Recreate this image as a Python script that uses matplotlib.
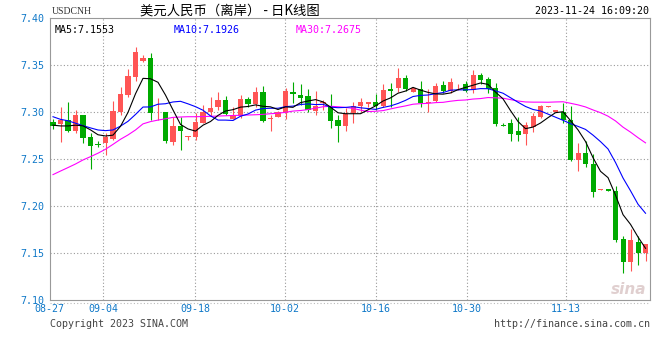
import matplotlib
matplotlib.use("Agg")
import matplotlib.pyplot as plt
from matplotlib.lines import Line2D
import numpy as np

symbol = "USDCNH"
title = "美元人民币（离岸） - 日K线图"
stamp = "2023-11-24 16:09:20"

# daily candles, oldest first
open_ = [7.2901, 7.2876, 7.2917, 7.2805, 7.2971, 7.2737, 7.2664, 7.2676, 7.2716, 7.3006,
         7.3185, 7.3378, 7.3550, 7.3579, 7.2998, 7.3003, 7.2687, 7.2855, 7.2737, 7.2740,
         7.2890, 7.3000, 7.3057, 7.3132, 7.2931, 7.2960, 7.3139, 7.3092, 7.3217, 7.2925,
         7.2953, 7.2989, 7.3217, 7.3185, 7.3175, 7.3017, 7.3096, 7.3060, 7.2917, 7.2858,
         7.2989, 7.3071, 7.3092, 7.3110, 7.3071, 7.3250, 7.3254, 7.3361, 7.3218, 7.3243,
         7.3096, 7.3124, 7.3289, 7.3228, 7.3265, 7.3300, 7.3236, 7.3396, 7.3354, 7.3254,
         7.2866, 7.2887, 7.2802, 7.2769, 7.2848, 7.2953, 7.3060, 7.3006, 7.3006, 7.2917,
         7.2493, 7.2571, 7.2450, 7.2170, 7.2181, 7.2166, 7.1652, 7.1411, 7.1620, 7.1499]
high = [7.2925, 7.3060, 7.3110, 7.3024, 7.2975, 7.2777, 7.2694, 7.2777, 7.3121, 7.3271,
        7.3458, 7.3693, 7.3611, 7.3629, 7.3150, 7.3006, 7.2953, 7.2953, 7.2750, 7.2989,
        7.3078, 7.3167, 7.3217, 7.3175, 7.3060, 7.3188, 7.3161, 7.3265, 7.3279, 7.2971,
        7.3010, 7.3254, 7.3322, 7.3300, 7.3243, 7.3222, 7.3132, 7.3196, 7.2971, 7.3043,
        7.3113, 7.3150, 7.3113, 7.3196, 7.3300, 7.3308, 7.3468, 7.3396, 7.3257, 7.3335,
        7.3243, 7.3314, 7.3335, 7.3361, 7.3300, 7.3335, 7.3450, 7.3415, 7.3372, 7.3308,
        7.2890, 7.2925, 7.2950, 7.2901, 7.2989, 7.3078, 7.3070, 7.3024, 7.3103, 7.3067,
        7.2676, 7.2694, 7.2557, 7.2181, 7.2184, 7.2216, 7.1685, 7.1754, 7.1685, 7.1598]
low = [7.2820, 7.2687, 7.2791, 7.2777, 7.2676, 7.2393, 7.2627, 7.2546, 7.2705, 7.2971,
       7.3167, 7.3335, 7.3539, 7.2917, 7.2917, 7.2670, 7.2652, 7.2600, 7.2705, 7.2705,
       7.2884, 7.2960, 7.3024, 7.2971, 7.2925, 7.2936, 7.3060, 7.3053, 7.2901, 7.2805,
       7.2950, 7.2925, 7.3096, 7.3078, 7.3006, 7.2971, 7.3024, 7.2830, 7.2687, 7.2805,
       7.2890, 7.3006, 7.3060, 7.3024, 7.3060, 7.3053, 7.3218, 7.3228, 7.3215, 7.3060,
       7.3006, 7.3114, 7.3203, 7.3203, 7.3236, 7.3214, 7.3203, 7.3300, 7.3203, 7.2855,
       7.2855, 7.2698, 7.2698, 7.2652, 7.2794, 7.2942, 7.3058, 7.3003, 7.2890, 7.2485,
       7.2378, 7.2421, 7.2095, 7.2170, 7.2166, 7.1623, 7.1287, 7.1315, 7.1376, 7.1420]
close = [7.2852, 7.2917, 7.2805, 7.2971, 7.2730, 7.2641, 7.2656, 7.2740, 7.3014, 7.3196,
         7.3386, 7.3643, 7.3575, 7.2989, 7.3008, 7.2698, 7.2855, 7.2802, 7.2748, 7.2901,
         7.3006, 7.3049, 7.3132, 7.2982, 7.2971, 7.3139, 7.3089, 7.3217, 7.2909, 7.2939,
         7.3000, 7.3225, 7.3193, 7.3156, 7.3024, 7.3071, 7.3114, 7.2910, 7.2855, 7.2978,
         7.3067, 7.3113, 7.3113, 7.3067, 7.3236, 7.3228, 7.3361, 7.3243, 7.3254, 7.3096,
         7.3114, 7.3279, 7.3228, 7.3318, 7.3271, 7.3228, 7.3396, 7.3343, 7.3243, 7.2873,
         7.2858, 7.2773, 7.2759, 7.2866, 7.2960, 7.3067, 7.3067, 7.3021, 7.2914, 7.2493,
         7.2571, 7.2450, 7.2155, 7.2181, 7.2166, 7.1642, 7.1411, 7.1642, 7.1499, 7.1595]

# moving average lines as shown on the chart
ma5 = [7.2863, 7.2855, 7.2855, 7.2863, 7.2856, 7.2813, 7.2761, 7.2748, 7.2757, 7.2851,
       7.2999, 7.3197, 7.3361, 7.3357, 7.3319, 7.3183, 7.3025, 7.2871, 7.2823, 7.2800,
       7.2863, 7.2902, 7.2967, 7.3014, 7.3028, 7.3055, 7.3062, 7.3079, 7.3064, 7.3058,
       7.3030, 7.3058, 7.3053, 7.3103, 7.3120, 7.3135, 7.3111, 7.3055, 7.2995, 7.2985,
       7.2985, 7.2985, 7.3026, 7.3068, 7.3120, 7.3153, 7.3203, 7.3226, 7.3265, 7.3236,
       7.3212, 7.3196, 7.3193, 7.3206, 7.3241, 7.3265, 7.3288, 7.3312, 7.3297, 7.3215,
       7.3143, 7.3018, 7.2902, 7.2826, 7.2843, 7.2886, 7.2943, 7.2996, 7.3006, 7.2912,
       7.2813, 7.2689, 7.2517, 7.2372, 7.2305, 7.2119, 7.1911, 7.1808, 7.1673, 7.1553]
ma10 = [7.2953, 7.2925, 7.2910, 7.2884, 7.2858, 7.2834, 7.2812, 7.2805, 7.2812, 7.2853,
        7.2904, 7.2977, 7.3056, 7.3057, 7.3086, 7.3091, 7.3110, 7.3117, 7.3090, 7.3060,
        7.3022, 7.2962, 7.2917, 7.2917, 7.2913, 7.2958, 7.2982, 7.3023, 7.3040, 7.3043,
        7.3043, 7.3060, 7.3066, 7.3083, 7.3089, 7.3082, 7.3085, 7.3055, 7.3049, 7.3052,
        7.3060, 7.3048, 7.3040, 7.3031, 7.3052, 7.3068, 7.3094, 7.3127, 7.3168, 7.3180,
        7.3184, 7.3198, 7.3210, 7.3235, 7.3239, 7.3239, 7.3242, 7.3252, 7.3251, 7.3228,
        7.3203, 7.3155, 7.3107, 7.3062, 7.3030, 7.3014, 7.2981, 7.2948, 7.2915, 7.2879,
        7.2850, 7.2818, 7.2757, 7.2688, 7.2610, 7.2466, 7.2301, 7.2165, 7.2022, 7.1926]
ma30 = [7.2337, 7.2375, 7.2412, 7.2450, 7.2493, 7.2528, 7.2565, 7.2607, 7.2659, 7.2713,
        7.2759, 7.2812, 7.2877, 7.2901, 7.2917, 7.2931, 7.2946, 7.2950, 7.2953, 7.2953,
        7.2955, 7.2957, 7.2960, 7.2963, 7.2966, 7.2968, 7.2971, 7.2974, 7.2978, 7.2985,
        7.2990, 7.3000, 7.3013, 7.3019, 7.3029, 7.3044, 7.3059, 7.3064, 7.3059, 7.3052,
        7.3042, 7.3023, 7.3008, 7.3011, 7.3018, 7.3036, 7.3053, 7.3068, 7.3086, 7.3092,
        7.3095, 7.3103, 7.3106, 7.3118, 7.3127, 7.3131, 7.3141, 7.3146, 7.3157, 7.3154,
        7.3150, 7.3135, 7.3120, 7.3110, 7.3108, 7.3108, 7.3107, 7.3110, 7.3112, 7.3096,
        7.3079, 7.3057, 7.3025, 7.2996, 7.2959, 7.2908, 7.2842, 7.2789, 7.2730, 7.2675]

date_labels = ["08-27", "09-04", "09-18", "10-02", "10-16", "10-30", "11-13"]
date_pos = [-0.53, 6.67, 18.93, 30.93, 43.07, 55.2, 68.4]
price_ticks = [7.10, 7.15, 7.20, 7.25, 7.30, 7.35, 7.40]

UP = "#ff5555"
DOWN = "#00aa00"
GRID = "#999999"
BLUE = "#0f78c8"
MONO = "DejaVu Sans Mono"

o = np.array(open_)
h = np.array(high)
l = np.array(low)
c = np.array(close)
x = np.arange(len(c))
colors = np.where(c >= o, UP, DOWN)

fig = plt.figure(figsize=(6.6, 3.6), dpi=100)
ax = fig.add_axes([50 / 660, 1 - 300.3 / 360, 599.5 / 660, 282 / 360])
ax.set_xlim(-0.4, 79.53)
ax.set_ylim(7.10, 7.40)

for p in price_ticks[1:-1]:
    ax.axhline(p, color=GRID, lw=0.8, ls=(0, (1, 2)), zorder=0)
for p in date_pos[1:]:
    ax.axvline(p, color=GRID, lw=0.8, ls=(0, (1, 2)), zorder=0)

ax.vlines(x, l, h, colors=colors, lw=0.8, zorder=2)
body = np.maximum(np.abs(c - o), 0.0009)
ax.bar(x, body, bottom=np.minimum(o, c), width=0.67, color=colors, linewidth=0, zorder=3)

ax.plot(np.arange(len(ma30)), ma30, color="#ff00ff", lw=0.8, zorder=4)
ax.plot(np.arange(len(ma10)), ma10, color="#0000ff", lw=0.8, zorder=5)
ax.plot(np.arange(len(ma5)), ma5, color="black", lw=0.8, zorder=6)

for s in ax.spines.values():
    s.set_color("#999999")
    s.set_linewidth(0.8)
ax.set_xticks([])
ax.set_yticks(price_ticks)
ax.set_yticklabels(["%.2f" % p for p in price_ticks], color=BLUE, fontfamily=MONO, fontsize=7.2)
ax.tick_params(axis="y", length=0, pad=4)

for lab, p in zip(date_labels, date_pos):
    ax.text(p, -0.032, lab, transform=ax.get_xaxis_transform(), ha="center", va="center",
            color=BLUE, fontfamily=MONO, fontsize=7.2, clip_on=False)

# dotted rule under the plot
fig.add_artist(Line2D([50 / 660, 650 / 660], [1 - 303 / 360] * 2, color="#bbbbbb",
                      lw=0.8, ls=(0, (1, 2))))

ax.text(0.008, 0.978, "MA5:%.4f" % ma5[-1], transform=ax.transAxes, ha="left", va="top",
        color="black", fontfamily=MONO, fontsize=7.2)
ax.text(0.207, 0.978, "MA10:%.4f" % ma10[-1], transform=ax.transAxes, ha="left", va="top",
        color="#0000ff", fontfamily=MONO, fontsize=7.2)
ax.text(0.409, 0.978, "MA30:%.4f" % ma30[-1], transform=ax.transAxes, ha="left", va="top",
        color="#ff00ff", fontfamily=MONO, fontsize=7.2)

fig.text(52 / 660, 1 - 12 / 360, symbol, ha="left", va="center", color="#333333",
         fontfamily="Liberation Serif", fontsize=7)
fig.text(140 / 660, 1 - 10.5 / 360, title, ha="left", va="center", color="black",
         fontfamily=["Noto Sans CJK SC", "DejaVu Sans"], fontsize=9.6)
fig.text(649 / 660, 1 - 11.5 / 360, stamp, ha="right", va="center", color="black",
         fontfamily=MONO, fontsize=7.2)
fig.text(50 / 660, 1 - 324 / 360, "Copyright 2023 SINA.COM", ha="left", va="center",
         color="#444444", fontfamily=MONO, fontsize=7.2)
fig.text(650 / 660, 1 - 324 / 360, "http://finance.sina.com.cn", ha="right", va="center",
         color="#444444", fontfamily=MONO, fontsize=7.2)
fig.text(646 / 660, 1 - 289 / 360, "sina", ha="right", va="center", color="#d9c4c4",
         fontsize=11, style="italic", weight="bold", alpha=0.8)

fig.savefig("out.png", dpi=100)
